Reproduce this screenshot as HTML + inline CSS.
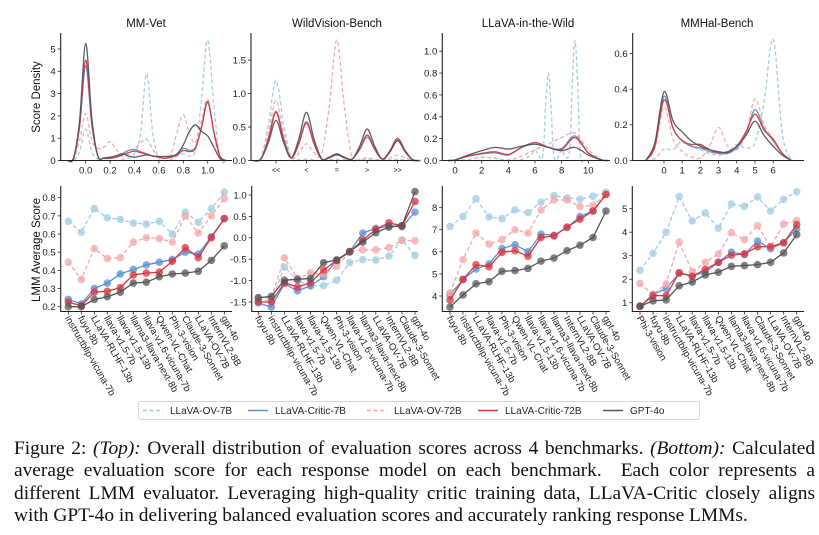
<!DOCTYPE html>
<html><head><meta charset="utf-8">
<style>
html,body{margin:0;padding:0;background:#fff;}
body{width:819px;height:535px;overflow:hidden;position:relative;font-family:"Liberation Sans","DejaVu Sans",sans-serif;}
#chart{position:absolute;left:0;top:0;}
#caption{position:absolute;left:14px;top:438px;width:801px;font-family:"Liberation Serif",serif;font-size:19.4px;line-height:22.3px;color:#111;}
#caption div{text-align:justify;text-align-last:justify;white-space:nowrap;}
#caption div.last{text-align-last:left;}
</style></head>
<body>
<svg id="chart" width="819" height="430" xmlns="http://www.w3.org/2000/svg"></svg>
<div id="caption">
<div>Figure 2: <i>(Top):</i> Overall distribution of evaluation scores across 4 benchmarks. <i>(Bottom):</i> Calculated</div>
<div>average evaluation score for each response model on each benchmark.&nbsp; Each color represents a</div>
<div>different LMM evaluator. Leveraging high-quality critic training data, LLaVA-Critic closely aligns</div>
<div class="last">with GPT-4o in delivering balanced evaluation scores and accurately ranking response LMMs.</div>
</div>
<script>
// ---- data ----
const seriesNames = ["LLaVA-OV-7B","LLaVA-Critic-7B","LLaVA-OV-72B","LLaVA-Critic-72B","GPT-4o"];
const seriesColors = ["#9fcbe3","#5a8fd2","#f4a7a7","#d9363e","#555555"];
const seriesDashed = [true,false,true,false,false];

// MM-Vet density
const mmvetDensX = [-0.15,-0.10,-0.05,0,0.05,0.10,0.15,0.20,0.25,0.30,0.35,0.40,0.45,0.50,0.55,0.60,0.65,0.70,0.75,0.80,0.85,0.90,0.95,1.00,1.05,1.10,1.15];
const mmvetDensOV7 = [0,0,0.4,1.4,0.4,0.05,0,0,0,0.05,0.1,0.3,1.2,3.9,1.2,0.1,0,0.05,0.2,0.3,0.2,0.5,2.8,5.4,2.5,0.1,0];
const mmvetDensC7 = [0,0.1,1.5,4.25,1.6,0.2,0.1,0.1,0.15,0.3,0.45,0.5,0.4,0.3,0.2,0.15,0.1,0.15,0.3,0.55,0.45,0.6,1.5,2.6,1.3,0.2,0];
const mmvetDensOV72 = [0,0.05,0.9,2.1,0.9,0.55,0.6,0.85,0.5,0.2,0.3,0.5,0.8,0.95,0.5,0.15,0.1,0.3,1.3,2.05,1.2,0.8,1.8,2.75,1.2,0.1,0];
const mmvetDensC72 = [0,0.1,1.6,4.5,1.7,0.2,0.1,0.1,0.15,0.25,0.35,0.42,0.35,0.28,0.2,0.15,0.1,0.15,0.25,0.45,0.4,0.55,1.5,2.65,1.3,0.2,0];
const mmvetDensGPT = [0,0.1,1.8,5.25,1.9,0.2,0.12,0.15,0.22,0.3,0.2,0.15,0.2,0.25,0.2,0.18,0.18,0.2,0.3,0.7,1.3,1.6,1.3,1.1,0.6,0.1,0];

// WildVision density
const wvDensX = [-0.75,-0.5,-0.25,0,0.25,0.5,0.75,1,1.25,1.5,1.75,2,2.25,2.5,2.75,3,3.25,3.5,3.75,4,4.25,4.5,4.75];
const wvDensOV7 = [0,0.04,0.54,1.2,0.54,0.04,0.01,0.02,0.01,0,0.01,0.02,0.01,0,0.01,0.02,0.01,0,0.01,0.02,0.01,0,0];
const wvDensC7 = [0,0.02,0.33,0.74,0.33,0.04,0.26,0.58,0.26,0.02,0.04,0.08,0.04,0.02,0.16,0.35,0.16,0.02,0.13,0.3,0.13,0.01,0];
const wvDensOV72 = [0,0.03,0.4,0.9,0.4,0.04,0.11,0.25,0.12,0.1,0.8,1.8,0.8,0.05,0.02,0.04,0.02,0.01,0.04,0.08,0.04,0.01,0];
const wvDensC72 = [0,0.02,0.32,0.72,0.32,0.04,0.25,0.56,0.25,0.02,0.04,0.09,0.04,0.02,0.17,0.38,0.17,0.02,0.15,0.33,0.15,0.01,0];
const wvDensGPT = [0,0.02,0.27,0.6,0.27,0.04,0.32,0.72,0.32,0.03,0.05,0.1,0.05,0.02,0.21,0.47,0.21,0.02,0.13,0.3,0.13,0.01,0];

// LLaVA-in-the-Wild density
const lwDensX = [-0.5,0,1,2,3,4,5,6,7,8,9,10,11,11.5];
const lwDensOV7X = [0,4,5,5.7,6,6.3,6.6,6.8,7,7.2,7.4,7.7,8,8.3,8.6,8.8,9,9.2,9.4,9.7,10];
const lwDensOV7 = [0,0,0.01,0.05,0.1,0.04,0.05,0.5,0.8,0.5,0.05,0.02,0.1,0.03,0.1,0.7,1.1,0.7,0.05,0.01,0];
const lwDensC7 = [0,0.005,0.04,0.06,0.07,0.05,0.12,0.15,0.12,0.11,0.225,0.07,0.005,0];
const lwDensOV72 = [0,0,0.01,0.03,0.02,0.005,0.04,0.1,0.15,0.21,0.25,0.1,0.005,0];
const lwDensC72 = [0,0.005,0.04,0.065,0.08,0.055,0.12,0.165,0.12,0.1,0.21,0.07,0.005,0];
const lwDensGPT = [0,0.005,0.05,0.09,0.12,0.105,0.13,0.15,0.12,0.09,0.12,0.05,0.005,0];

// MMHal density
const mhDensX = [-1,-0.5,0,0.5,1,1.5,2,2.5,3,3.5,4,4.5,5,5.5,6,6.5,7];
const mhDensOV7 = [0,0.01,0.065,0.06,0.11,0.08,0.06,0.04,0.03,0.05,0.09,0.07,0.1,0.33,0.68,0.15,0];
const mhDensC7 = [0,0.09,0.36,0.18,0.11,0.08,0.07,0.05,0.04,0.04,0.07,0.15,0.285,0.18,0.11,0.04,0];
const mhDensOV72 = [0,0.07,0.3,0.12,0.05,0.02,0.015,0.08,0.185,0.08,0.06,0.15,0.345,0.2,0.12,0.04,0];
const mhDensC72 = [0,0.08,0.34,0.18,0.11,0.09,0.09,0.06,0.045,0.05,0.08,0.16,0.26,0.17,0.12,0.04,0];
const mhDensGPT = [0,0.1,0.385,0.22,0.16,0.11,0.08,0.06,0.05,0.045,0.08,0.14,0.22,0.14,0.08,0.03,0];

// Bottom row: categories & averages
const mmvetModels = ["instructblip-vicuna-7b","fuyu-8b","LLaVA-RLHF-13b","llava-v1.5-7b","llava-v1.5-13b","llama3-llava-next-8b","llava-v1.6-vicuna-7b","Qwen-VL-Chat","Phi-3-vision","Claude-3-Sonnet","LLaVA-OV-7B","InternVL2-8B","gpt-4o"];
const mmvetOV7 = [0.67,0.61,0.74,0.69,0.68,0.66,0.655,0.67,0.60,0.72,0.665,0.74,0.83];
const mmvetC7 = [0.24,0.215,0.30,0.33,0.38,0.405,0.43,0.445,0.46,0.50,0.49,0.585,0.685];
const mmvetOV72 = [0.445,0.35,0.52,0.465,0.47,0.555,0.58,0.575,0.555,0.70,0.605,0.70,0.795];
const mmvetC72 = [0.225,0.205,0.28,0.285,0.305,0.375,0.385,0.39,0.45,0.525,0.47,0.58,0.685];
const mmvetGPT = [0.20,0.20,0.24,0.255,0.28,0.33,0.335,0.365,0.38,0.385,0.395,0.455,0.535];

const wvModels = ["fuyu-8b","instructblip-vicuna-7b","LLaVA-RLHF-13b","llava-v1.5-7b","llava-v1.5-13b","Qwen-VL-Chat","Phi-3-vision","llava-v1.6-vicuna-7b","llama3-llava-next-8b","LLaVA-OV-7B","InternVL2-8B","Claude-3-Sonnet","gpt-4o"];
const wvOV7 = [-1.45,-1.47,-0.68,-1.00,-1.12,-1.12,-0.99,-0.58,-0.51,-0.52,-0.43,-0.05,-0.41];
const wvC7 = [-1.52,-1.62,-1.07,-1.24,-1.12,-0.91,-0.52,-0.32,0.11,0.22,0.28,0.26,0.60];
const wvOV72 = [-1.40,-1.40,-0.47,-0.95,-0.82,-0.85,-0.67,-0.33,-0.28,-0.28,-0.23,-0.06,-0.07];
const wvC72 = [-1.50,-1.50,-1.05,-1.15,-1.05,-0.75,-0.53,-0.33,-0.05,0.20,0.35,0.28,0.85];
const wvGPT = [-1.40,-1.37,-0.99,-0.97,-0.95,-0.58,-0.52,-0.32,-0.10,0.12,0.25,0.28,1.08];

const lwModels = ["fuyu-8b","instructblip-vicuna-7b","LLaVA-RLHF-13b","llava-v1.5-7b","Phi-3-vision","Qwen-VL-Chat","llava-v1.5-13b","llava-v1.6-vicuna-7b","llama3-llava-next-8b","InternVL2-8B","LLaVA-OV-7B","Claude-3-Sonnet","gpt-4o"];
const lwOV7 = [7.15,7.6,8.4,7.58,7.5,7.9,7.78,8.25,8.55,8.45,8.38,8.52,8.7];
const lwC7 = [4.05,4.75,5.22,5.45,6.15,6.32,6.0,6.8,6.75,7.1,7.6,7.85,8.6];
const lwOV72 = [4.15,5.65,6.85,6.35,6.55,7.0,6.85,7.9,8.35,8.35,8.05,8.1,8.6];
const lwC72 = [3.82,4.75,5.42,5.32,5.98,6.05,5.8,6.65,6.72,7.12,7.48,7.85,8.6];
const lwGPT = [3.5,4.05,4.55,4.65,5.12,5.15,5.25,5.58,5.72,6.05,6.3,6.65,7.85];

const mhModels = ["Phi-3-vision","fuyu-8b","instructblip-vicuna-7b","LLaVA-RLHF-13b","llava-v1.5-7b","llava-v1.5-13b","Qwen-VL-Chat","llama3-llava-next-8b","llava-v1.6-vicuna-7b","Claude-3-Sonnet","LLaVA-OV-7B","InternVL2-8B","gpt-4o"];
const mhOV7 = [2.38,3.1,4.0,5.52,4.48,4.82,4.17,5.2,5.1,5.5,4.9,5.4,5.72];
const mhC7 = [0.85,1.35,1.6,2.25,2.15,2.3,2.72,3.15,3.05,3.62,3.3,3.55,4.15];
const mhOV72 = [1.82,1.35,1.8,3.58,2.32,2.72,3.08,3.98,3.68,4.28,3.38,4.35,4.5];
const mhC72 = [0.85,1.3,1.3,2.28,2.12,2.42,2.72,3.02,3.08,3.38,3.38,3.55,4.32];
const mhGPT = [0.85,1.08,1.12,1.72,1.88,2.18,2.3,2.55,2.58,2.62,2.72,3.12,3.9];

const mmvetDensTicks = [0,1,2,3,4,5];
const mmvetXTicks = [0,0.2,0.4,0.6,0.8,1.0];
const wvDensTicks = [0,0.5,1.0,1.5];
const wvCatLabels = ["<<","<","=",">",">>"];
const lwDensTicks = [0,0.2,0.4,0.6,0.8,1.0];
const lwXTicks = [0,2,4,6,8,10];
const mhDensTicks = [0,0.2,0.4,0.6];
const mhXTicks = [0,1,2,3,4,5,6];
const mmvetYTicks = [0.2,0.3,0.4,0.5,0.6,0.7,0.8];
const wvYTicks = [-1.5,-1.0,-0.5,0.0,0.5,1.0];
const lwYTicks = [4,5,6,7,8];
const mhYTicks = [1,2,3,4,5];

// ---- drawing ----
const svg = document.getElementById('chart');
const NS = "http://www.w3.org/2000/svg";
function mk(tag, attrs, parent){
  const e = document.createElementNS(NS, tag);
  for (const k in attrs) e.setAttribute(k, attrs[k]);
  (parent||svg).appendChild(e);
  return e;
}
function txt(s, attrs, parent){ const t = mk('text', attrs, parent); t.textContent = s; return t; }
function smoothPath(pts){
  let d = "M"+pts[0][0].toFixed(2)+","+pts[0][1].toFixed(2);
  for (let i=0;i<pts.length-1;i++){
    const p0=pts[i-1]||pts[i], p1=pts[i], p2=pts[i+1], p3=pts[i+2]||p2;
    const c1=[p1[0]+(p2[0]-p0[0])/6, p1[1]+(p2[1]-p0[1])/6];
    const c2=[p2[0]-(p3[0]-p1[0])/6, p2[1]-(p3[1]-p1[1])/6];
    d += " C"+c1[0].toFixed(2)+","+c1[1].toFixed(2)+" "+c2[0].toFixed(2)+","+c2[1].toFixed(2)+" "+p2[0].toFixed(2)+","+p2[1].toFixed(2);
  }
  return d;
}
function axes(g, x0, x1, yTop, yBot){
  const a = mk('path', {d:`M${x0},${yTop} L${x0},${yBot} L${x1},${yBot}`, fill:'none', stroke:'#222', 'stroke-width':1.1}, g);
  
  
}
function yTicks(g, ticks, sy, x0, fmt){
  ticks.forEach(v=>{
    const y = sy(v);
    mk('line',{x1:x0-3,x2:x0,y1:y,y2:y,stroke:'#222','stroke-width':0.8},g);
    const t = txt(fmt(v),{x:x0-5,y:y+3.4,'text-anchor':'end','font-size':9.6,fill:'#222'},g);
    
    
  });
}
function xTicks(g, ticks, labels, sx, y0){
  ticks.forEach((v,i)=>{
    const x = sx(v);
    mk('line',{x1:x,x2:x,y1:y0,y2:y0+3,stroke:'#222','stroke-width':0.8},g);
    const t = txt(labels[i],{x:x,y:y0+13,'text-anchor':'middle','font-size':9.6,fill:'#222'},g);
    
    
  });
}
function title(s, cx){
  const t = txt(s,{x:cx,y:27,'text-anchor':'middle','font-size':11.5,fill:'#111'});
  
  
}
function densPanel(name, xs, curves, sx, sy){
  const g = mk('g',{});
  
  
  curves.forEach((c,k)=>{
    const px = c.xs || xs;
    const pts = px.map((x,i)=>[sx(x), sy(c.ys[i])]);
    const p = mk('path',{d:smoothPath(pts),fill:'none',stroke:seriesColors[k],'stroke-width':1.3,'stroke-dasharray':seriesDashed[k]?'4,2.5':'none','stroke-opacity':0.95},g);
    
    
  });
  return g;
}
function linePanel(name, models, series, x0, dx, sy){
  const g = mk('g',{});
  
  
  const sx = i => x0 + i*dx;
  series.forEach((vals,k)=>{
    const d = vals.map((v,i)=>(i?'L':'M')+sx(i).toFixed(2)+','+sy(v).toFixed(2)).join(' ');
    const p = mk('path',{d:d,fill:'none',stroke:seriesColors[k],'stroke-width':1.3,'stroke-dasharray':seriesDashed[k]?'4,2.5':'none'},g);
    
    
    vals.forEach((v,i)=>{
      const c = mk('circle',{cx:sx(i),cy:sy(v),r:3.8,fill:seriesColors[k],'fill-opacity':0.75},g);
      
      
    });
  });
  models.forEach((m,i)=>{
    const x = sx(i);
    mk('line',{x1:x,x2:x,y1:311.5,y2:314.5,stroke:'#222','stroke-width':0.8},g);
    const t = txt(m,{x:0,y:0,'font-size':9.6,fill:'#222',transform:`translate(${x-3.5},${318}) rotate(60)`},g);
    
    
  });
  return g;
}

// Top row
const topY0 = 160.5, topTop = 33;
{
  const sx = x=>85.7+122*x, sy = v=>topY0-22.3*v;
  const g = densPanel('mm-vet', mmvetDensX, [{ys:mmvetDensOV7},{ys:mmvetDensC7},{ys:mmvetDensOV72},{ys:mmvetDensC72},{ys:mmvetDensGPT}], sx, sy);
  axes(g,60.7,232,topTop,topY0);
  yTicks(g, mmvetDensTicks, sy, 60.7, v=>String(v));
  xTicks(g, mmvetXTicks, mmvetXTicks.map(v=>v.toFixed(1)), sx, topY0);
  title('MM-Vet',146);
}
{
  const sx = x=>276+30.4*x, sy = v=>topY0-66.9*v;
  const g = densPanel('wildvision', wvDensX, [{ys:wvDensOV7},{ys:wvDensC7},{ys:wvDensOV72},{ys:wvDensC72},{ys:wvDensGPT}], sx, sy);
  axes(g,251,418,topTop,topY0);
  yTicks(g, wvDensTicks, sy, 251, v=>v.toFixed(1));
  wvCatLabels.forEach((l,i)=>{
    const x=sx(i);
    mk('line',{x1:x,x2:x,y1:topY0,y2:topY0+3,stroke:'#222','stroke-width':0.8},g);
    const t=txt(l,{x:x,y:topY0+12,'text-anchor':'middle','font-size':7,fill:'#222'},g);
    
    
  });
  title('WildVision-Bench',337);
}
{
  const sx = x=>455+13.33*x, sy = v=>topY0-109.3*v;
  const g = densPanel('llava-wild', lwDensX, [{xs:lwDensOV7X,ys:lwDensOV7},{ys:lwDensC7},{ys:lwDensOV72},{ys:lwDensC72},{ys:lwDensGPT}], sx, sy);
  axes(g,442.3,610,topTop,topY0);
  yTicks(g, lwDensTicks, sy, 442.3, v=>v.toFixed(1));
  xTicks(g, lwXTicks, lwXTicks.map(String), sx, topY0);
  title('LLaVA-in-the-Wild',528);
}
{
  const sx = x=>664+18.2*x, sy = v=>topY0-178.3*v;
  const g = densPanel('mmhal', mhDensX, [{ys:mhDensOV7},{ys:mhDensC7},{ys:mhDensOV72},{ys:mhDensC72},{ys:mhDensGPT}], sx, sy);
  axes(g,632.7,804,topTop,topY0);
  yTicks(g, mhDensTicks, sy, 632.7, v=>v.toFixed(1));
  xTicks(g, mhXTicks, mhXTicks.map(String), sx, topY0);
  title('MMHal-Bench',717);
}

// Bottom row
const botY0 = 311.5, botTop = 186;
{
  const sy = v=>306.7-(v-0.2)*181.7;
  const g = linePanel('mm-vet', mmvetModels, [mmvetOV7,mmvetC7,mmvetOV72,mmvetC72,mmvetGPT], 68.3, 13.0, sy);
  axes(g,60.7,232,botTop,botY0);
  yTicks(g, mmvetYTicks, sy, 60.7, v=>v.toFixed(1));
}
{
  const sy = v=>237.8-v*42.8;
  const g = linePanel('wildvision', wvModels, [wvOV7,wvC7,wvOV72,wvC72,wvGPT], 258.3, 13.06, sy);
  axes(g,251.7,418,botTop,botY0);
  yTicks(g, wvYTicks, sy, 251.7, v=>v.toFixed(1));
}
{
  const sy = v=>296-(v-4)*22.08;
  const g = linePanel('llava-wild', lwModels, [lwOV7,lwC7,lwOV72,lwC72,lwGPT], 450, 13.0, sy);
  axes(g,442.3,610,botTop,botY0);
  yTicks(g, lwYTicks, sy, 442.3, v=>String(v));
}
{
  const sy = v=>302.7-(v-1)*23.5;
  const g = linePanel('mmhal', mhModels, [mhOV7,mhC7,mhOV72,mhC72,mhGPT], 640, 13.06, sy);
  axes(g,632.3,804,botTop,botY0);
  yTicks(g, mhYTicks, sy, 632.3, v=>String(v));
}

// Y-axis titles
{
  const t1 = txt('Score Density',{x:0,y:0,'text-anchor':'middle','font-size':11.5,fill:'#111',transform:'translate(40,97) rotate(-90)'});
  
  
  const t2 = txt('LMM Average Score',{x:0,y:0,'text-anchor':'middle','font-size':11.5,fill:'#111',transform:'translate(40,250) rotate(-90)'});
  
  
}

// Legend
{
  const g = mk('g',{});
  
  
  mk('rect',{x:138.5,y:401.5,width:561,height:18,rx:2,fill:'#fff',stroke:'#d8d8d8','stroke-width':1},g);
  const lx = [143,248,367,478,603];
  seriesNames.forEach((n,k)=>{
    const e = mk('g',{},g);
    
    
    mk('line',{x1:lx[k],x2:lx[k]+20,y1:410.5,y2:410.5,stroke:seriesColors[k],'stroke-width':1.4,'stroke-dasharray':seriesDashed[k]?'4,2.5':'none'},e);
    txt(n,{x:lx[k]+27,y:414,'font-size':10,fill:'#222'},e);
  });
}
</script>
</body></html>
